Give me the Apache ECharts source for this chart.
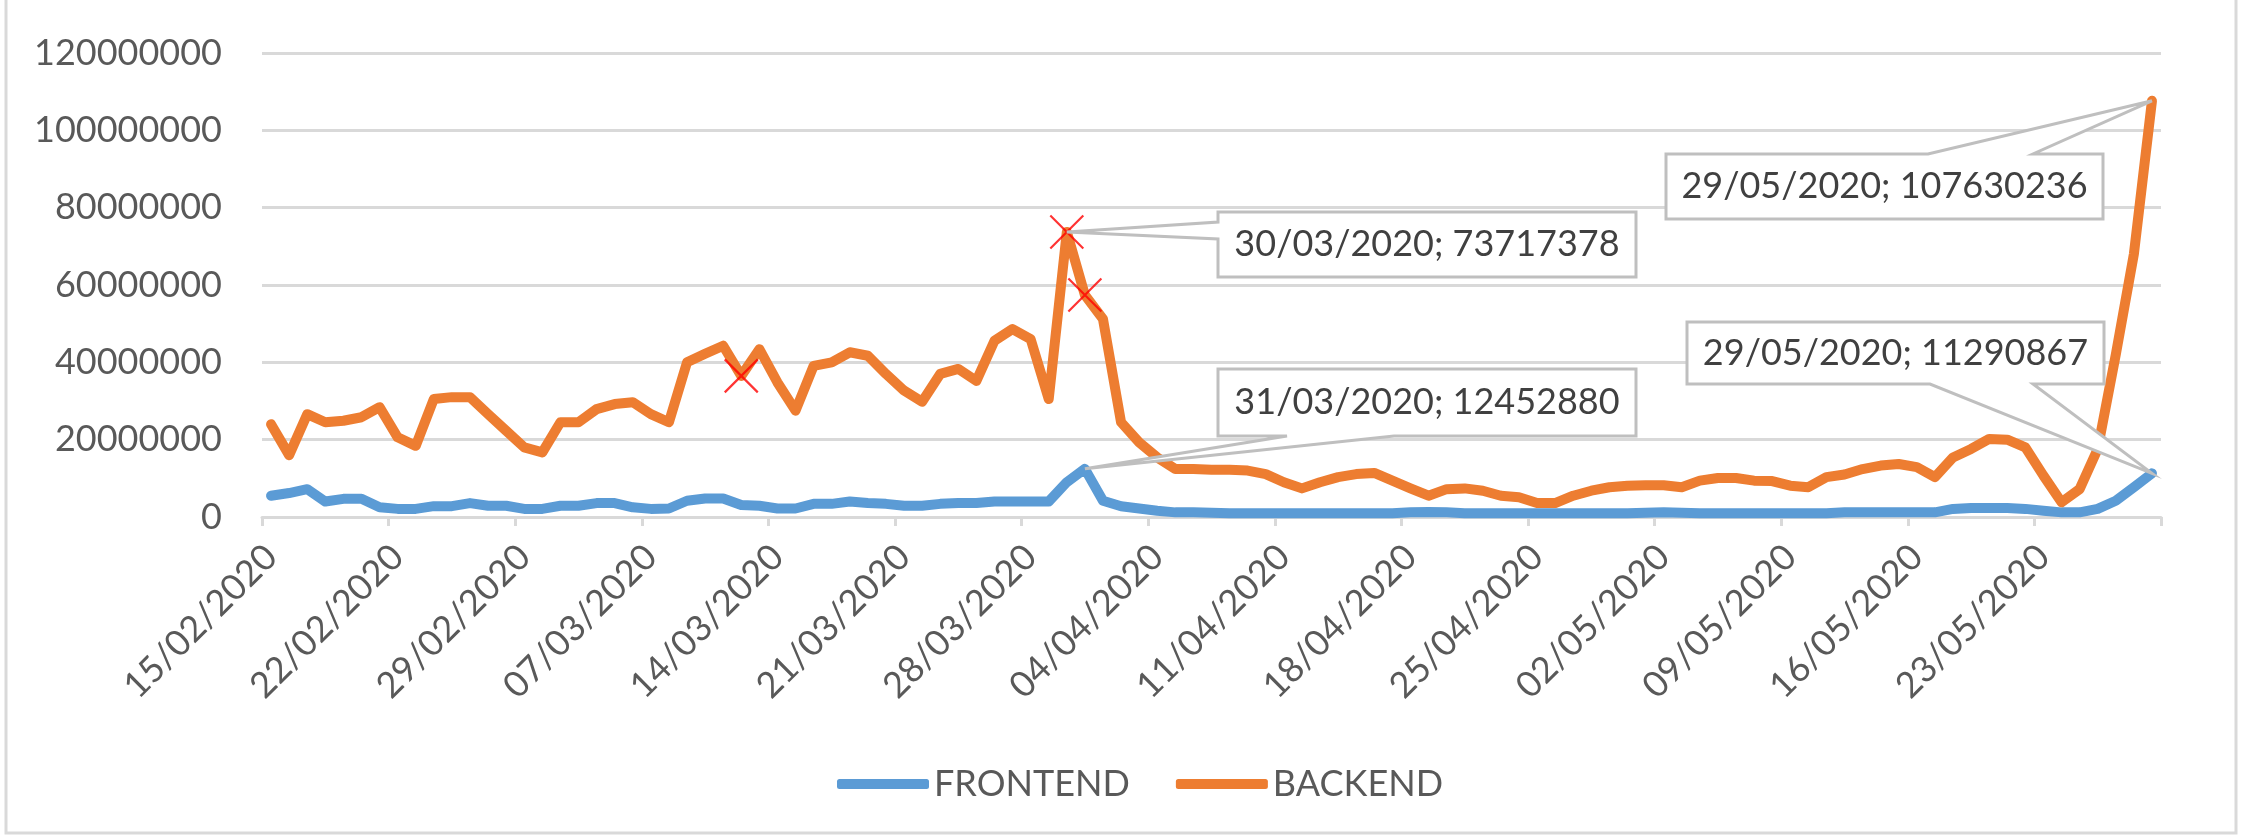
<!DOCTYPE html>
<html><head><meta charset="utf-8">
<script src="https://cdn.jsdelivr.net/npm/echarts@6/dist/echarts.min.js"></script>
<style>html,body{margin:0;padding:0;background:#fff}#c{width:2241px;height:837px}</style>
</head><body><div id="c"></div>
<script>
const categories = [
 '15/02/2020','16/02/2020','17/02/2020','18/02/2020','19/02/2020','20/02/2020','21/02/2020','22/02/2020','23/02/2020','24/02/2020','25/02/2020','26/02/2020','27/02/2020','28/02/2020','29/02/2020',
 '01/03/2020','02/03/2020','03/03/2020','04/03/2020','05/03/2020','06/03/2020','07/03/2020','08/03/2020','09/03/2020','10/03/2020','11/03/2020','12/03/2020','13/03/2020','14/03/2020','15/03/2020','16/03/2020','17/03/2020','18/03/2020','19/03/2020','20/03/2020','21/03/2020','22/03/2020','23/03/2020','24/03/2020','25/03/2020','26/03/2020','27/03/2020','28/03/2020','29/03/2020','30/03/2020','31/03/2020',
 '01/04/2020','02/04/2020','03/04/2020','04/04/2020','05/04/2020','06/04/2020','07/04/2020','08/04/2020','09/04/2020','10/04/2020','11/04/2020','12/04/2020','13/04/2020','14/04/2020','15/04/2020','16/04/2020','17/04/2020','18/04/2020','19/04/2020','20/04/2020','21/04/2020','22/04/2020','23/04/2020','24/04/2020','25/04/2020','26/04/2020','27/04/2020','28/04/2020','29/04/2020','30/04/2020',
 '01/05/2020','02/05/2020','03/05/2020','04/05/2020','05/05/2020','06/05/2020','07/05/2020','08/05/2020','09/05/2020','10/05/2020','11/05/2020','12/05/2020','13/05/2020','14/05/2020','15/05/2020','16/05/2020','17/05/2020','18/05/2020','19/05/2020','20/05/2020','21/05/2020','22/05/2020','23/05/2020','24/05/2020','25/05/2020','26/05/2020','27/05/2020','28/05/2020','29/05/2020'
];

const frontend = [
 5500000, 6200000, 7200000, 4000000, 4700000, 4700000, 2500000, 2100000, 2100000, 2800000, 2800000, 3600000, 2900000, 2900000, 2100000, 2100000, 2900000,
 2900000, 3600000, 3600000, 2500000, 2100000, 2200000, 4200000, 4800000, 4800000, 3100000, 2900000, 2200000, 2200000, 3400000, 3400000, 4000000, 3600000, 3400000,
 2900000, 2900000, 3400000, 3600000, 3600000, 4000000, 4000000, 4000000, 4000000, 9000000, 12452880, 4200000, 2800000, 2200000, 1600000, 1200000, 1200000,
 1100000, 1000000, 1000000, 1000000, 1000000, 1000000, 1000000, 1000000, 1000000, 1000000, 1000000,
 1200000, 1300000, 1200000,
 1000000, 1000000, 1000000, 1000000, 1000000, 1000000, 1000000, 1000000, 1000000, 1000000, 1100000, 1200000, 1100000, 1000000, 1000000, 1000000, 1000000, 1000000, 1000000, 1000000, 1000000,
 1200000, 1200000, 1200000, 1200000, 1200000, 1200000,
 2100000, 2300000, 2300000, 2300000, 2100000, 1600000, 1200000, 1200000, 2100000, 4200000, 7700000, 11290867
];

const backend = [
 24000000, 16000000, 26600000, 24500000, 24900000, 25800000, 28400000, 20600000, 18400000, 30500000, 31000000, 31000000, 26600000, 22300000, 18000000, 16700000, 24500000,
 24500000, 27900000, 29200000, 29700000, 26600000, 24500000, 40000000, 42200000, 44300000, 36500000, 43400000, 34800000, 27500000, 39100000, 40000000, 42600000, 41700000, 37000000,
 32700000, 29800000, 37000000, 38300000, 35200000, 45600000, 48600000, 46000000, 30500000, 73717378, 57400000, 51200000, 24500000, 19300000, 15400000, 12400000, 12400000,
 12200000, 12200000, 12000000, 11100000, 9000000, 7400000, 9000000, 10300000, 11100000, 11400000, 9400000, 7400000, 5500000, 7200000, 7400000, 6800000, 5500000,
 5100000, 3600000, 3600000, 5500000, 6800000, 7700000, 8100000, 8200000, 8200000, 7700000, 9400000, 10100000, 10100000, 9400000, 9300000, 8100000, 7700000, 10300000,
 11000000, 12400000, 13300000, 13700000, 12900000, 10300000, 15400000, 17600000, 20200000, 20000000, 18000000, 10700000, 3800000, 7200000, 17600000, 42000000, 68000000, 107630236
];

const yTicks = [0, 20000000, 40000000, 60000000, 80000000, 100000000, 120000000];
const seriesNames = ['FRONTEND', 'BACKEND'];
const markedBackendIdx = [26, 44, 45];
// points that carry a callout label: [seriesIndex, dataIndex]
const labelledPoints = [[1, 44], [0, 45], [1, 104], [0, 104]];

// callout box geometry (layout only)
const calloutLayout = [
  {box: [1218, 212, 1636, 277], side: 'left',   base: [222, 239]},
  {box: [1218, 369, 1636, 436], side: 'bottom', base: [1287, 1394]},
  {box: [1666, 154, 2103, 219], side: 'top',    base: [1928, 2033]},
  {box: [1687, 322, 2104, 384], side: 'bottom', base: [1930, 2033]}
];

const FONT = 'Lato';
const GRID = '#D9D9D9';
const TXT = '#595959';
const seriesData = [frontend, backend];

const chart = echarts.init(document.getElementById('c'), null, {renderer: 'canvas'});
const option = {
  animation: false,
  textStyle: {fontFamily: FONT},
  grid: {left: 262, right: 80, top: 53, bottom: 320, containLabel: false},
  legend: {
    data: seriesNames, top: 761, left: 832, icon: 'roundRect', itemWidth: 92, itemHeight: 10, itemGap: 46,
    textStyle: {fontSize: 36, color: TXT, fontFamily: FONT}
  },
  xAxis: {
    type: 'category', data: categories, boundaryGap: true,
    axisLine: {lineStyle: {color: GRID, width: 3}},
    axisTick: {show: true, interval: 6, length: 9, lineStyle: {color: GRID, width: 3}},
    axisLabel: {interval: 6, rotate: 45, margin: 34, fontSize: 36, color: TXT, fontFamily: FONT}
  },
  yAxis: {
    type: 'value', min: yTicks[0], max: yTicks[yTicks.length - 1], interval: yTicks[1] - yTicks[0],
    axisLine: {show: false}, axisTick: {show: false},
    splitLine: {lineStyle: {color: GRID, width: 3}},
    axisLabel: {fontSize: 36, color: TXT, margin: 40, fontFamily: FONT, formatter: v => String(v)}
  },
  series: [
    {name: seriesNames[0], type: 'line', data: frontend, symbol: 'none', z: 2,
     itemStyle: {color: '#5B9BD5'}, lineStyle: {color: '#5B9BD5', width: 10, cap: 'round', join: 'round'}},
    {name: seriesNames[1], type: 'line', data: backend, symbol: 'none', z: 3,
     itemStyle: {color: '#ED7D31'}, lineStyle: {color: '#ED7D31', width: 10, cap: 'round', join: 'round'}},
    {name: 'marks', type: 'scatter', silent: true, z: 4,
     data: markedBackendIdx.map(i => [i, backend[i]]),
     symbol: 'path://M0 0L10 10M10 0L0 10', symbolSize: 33,
     itemStyle: {color: 'none', borderColor: '#FF0000', borderWidth: 2.2}}
  ]
};
chart.setOption(option);

const elements = [{
  type: 'rect', z: 50, silent: true,
  shape: {x: 6, y: -10, width: 2230, height: 843},
  style: {fill: 'none', stroke: GRID, lineWidth: 3}
}];
labelledPoints.forEach((lp, k) => {
  const [s, i] = lp;
  const v = seriesData[s][i];
  const tip = chart.convertToPixel({seriesIndex: s}, [i, v]);
  const L = calloutLayout[k];
  const [x0, y0, x1, y1] = L.box;
  let pts;
  if (L.side === 'left') {
    pts = [[x0, y0], [x1, y0], [x1, y1], [x0, y1], [x0, L.base[1]], tip, [x0, L.base[0]]];
  } else if (L.side === 'bottom') {
    pts = [[x0, y0], [x1, y0], [x1, y1], [L.base[1], y1], tip, [L.base[0], y1], [x0, y1]];
  } else {
    pts = [[x0, y0], [L.base[0], y0], tip, [L.base[1], y0], [x1, y0], [x1, y1], [x0, y1]];
  }
  elements.push({
    type: 'polygon', z: 100, silent: true,
    shape: {points: pts},
    style: {fill: '#FFFFFF', stroke: '#BFBFBF', lineWidth: 3}
  });
  elements.push({
    type: 'text', z: 101, silent: true,
    x: (x0 + x1) / 2, y: (y0 + y1) / 2,
    style: {text: categories[i] + '; ' + v, font: '36px ' + FONT, fill: '#404040', align: 'center', verticalAlign: 'middle'}
  });
});
chart.setOption({graphic: {elements: elements}});
</script>
</body></html>
